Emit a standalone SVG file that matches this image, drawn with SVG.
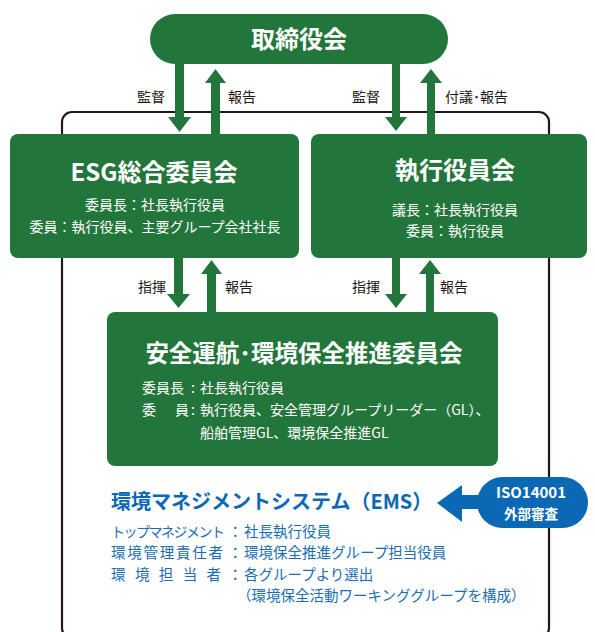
<svg xmlns="http://www.w3.org/2000/svg" width="595" height="632" viewBox="0 0 595 632">
<style>
.g{fill:#23763b}
.b{fill:#0a68b4}
.tw{fill:#fff;font-family:"Noto Sans CJK JP","Noto Sans",sans-serif;font-weight:bold;text-anchor:middle}
.sw{fill:#fff;font-family:"Noto Sans CJK JP","Noto Sans",sans-serif;font-size:14px}
.lab{fill:#231815;font-family:"Noto Sans CJK JP","Noto Sans",sans-serif;font-size:14px}
.bl{fill:#1a6db5;font-family:"Noto Sans CJK JP","Noto Sans",sans-serif;font-size:14.5px}
</style>
<rect x="62" y="112" width="487" height="526" rx="10" fill="none" stroke="#231815" stroke-width="2.2"/>
<g id="connectors">
<polygon class="g" points="175,60 184,60 184,117 191,117 179.5,132 168,117 175,117"/>
<polygon class="g" points="211,138 220,138 220,83 226,83 215.5,69 205,83 211,83"/>
<polygon class="g" points="392,60 400,60 400,117 407,117 396,131 385,117 392,117"/>
<polygon class="g" points="427,138 435,138 435,83 442,83 431,69 420,83 427,83"/>
<polygon class="g" points="174,255 183,255 183,294 190,294 178.5,308 167,294 174,294"/>
<polygon class="g" points="207,315 216,315 216,274 222,274 211.5,260 201,274 207,274"/>
<polygon class="g" points="392,255 400,255 400,294 407,294 396,308 385,294 392,294"/>
<polygon class="g" points="426,315 434,315 434,274 441,274 430,260 419,274 426,274"/>
<polygon class="b" points="480,495 462,495 462,485 437,503 462,522 462,509 480,509"/>
<text class="lab" x="137" y="102">監督</text>
<text class="lab" x="228" y="102">報告</text>
<text class="lab" x="352" y="102">監督</text>
<text class="lab" x="445" y="102">付議･報告</text>
<text class="lab" x="138" y="292">指揮</text>
<text class="lab" x="225" y="292">報告</text>
<text class="lab" x="352" y="292">指揮</text>
<text class="lab" x="440" y="292">報告</text>
</g>
<g id="board">
<rect class="g" x="150" y="14" width="298" height="50" rx="25"/>
<text class="tw" x="299" y="48" font-size="24">取締役会</text>
</g>
<g id="esg">
<rect class="g" x="10" y="134" width="289" height="124" rx="8"/>
<text class="tw" x="154" y="181" font-size="24">ESG総合委員会</text>
<text class="sw" x="155" y="210" text-anchor="middle">委員長：社長執行役員</text>
<text class="sw" x="155" y="232" text-anchor="middle">委員：執行役員、主要グループ会社社長</text>
</g>
<g id="exec">
<rect class="g" x="311" y="134" width="276" height="124" rx="8"/>
<text class="tw" x="455" y="179" font-size="24">執行役員会</text>
<text class="sw" x="455" y="215" text-anchor="middle">議長：社長執行役員</text>
<text class="sw" x="455" y="236" text-anchor="middle">委員：執行役員</text>
</g>
<g id="safety">
<rect class="g" x="107" y="312" width="391" height="154" rx="8"/>
<text class="tw" x="304" y="362" font-size="23.5">安全運航･環境保全推進委員会</text>
<text class="sw" x="142" y="393">委員長</text>
<text class="sw" x="191" y="393">:</text>
<text class="sw" x="200" y="393">社長執行役員</text>
<text class="sw" x="142" y="415">委</text>
<text class="sw" x="175" y="415">員</text>
<text class="sw" x="191" y="415">:</text>
<text class="sw" x="200" y="415">執行役員、安全管理グループリーダー（GL）、</text>
<text class="sw" x="200" y="438">船舶管理GL、環境保全推進GL</text>
</g>
<g id="ems">
<text x="111" y="509" font-family="'Noto Sans CJK JP',sans-serif" font-weight="bold" font-size="20" fill="#0a68b4">環境マネジメントシステム（EMS）</text>
<text class="bl" x="111" y="537" style="font-size:14px;letter-spacing:-1.5px">トップマネジメント</text>
<text class="bl" x="228" y="537">：</text>
<text class="bl" x="244" y="537">社長執行役員</text>
<text class="bl" x="111" y="558" textLength="112" lengthAdjust="spacing">環境管理責任者</text>
<text class="bl" x="228" y="558">：</text>
<text class="bl" x="244" y="558">環境保全推進グループ担当役員</text>
<text class="bl" x="111" y="580" textLength="110" lengthAdjust="spacing">環境担当者</text>
<text class="bl" x="228" y="580">：</text>
<text class="bl" x="244" y="580">各グループより選出</text>
<text class="bl" x="237" y="601">（環境保全活動ワーキンググループを構成）</text>
</g>
<g id="iso">
<rect class="b" x="477" y="477" width="111" height="51" rx="25.5"/>
<text class="tw" x="531" y="498" font-size="15">ISO14001</text>
<text class="tw" x="531" y="519" font-size="13.5">外部審査</text>
</g>
</svg>
